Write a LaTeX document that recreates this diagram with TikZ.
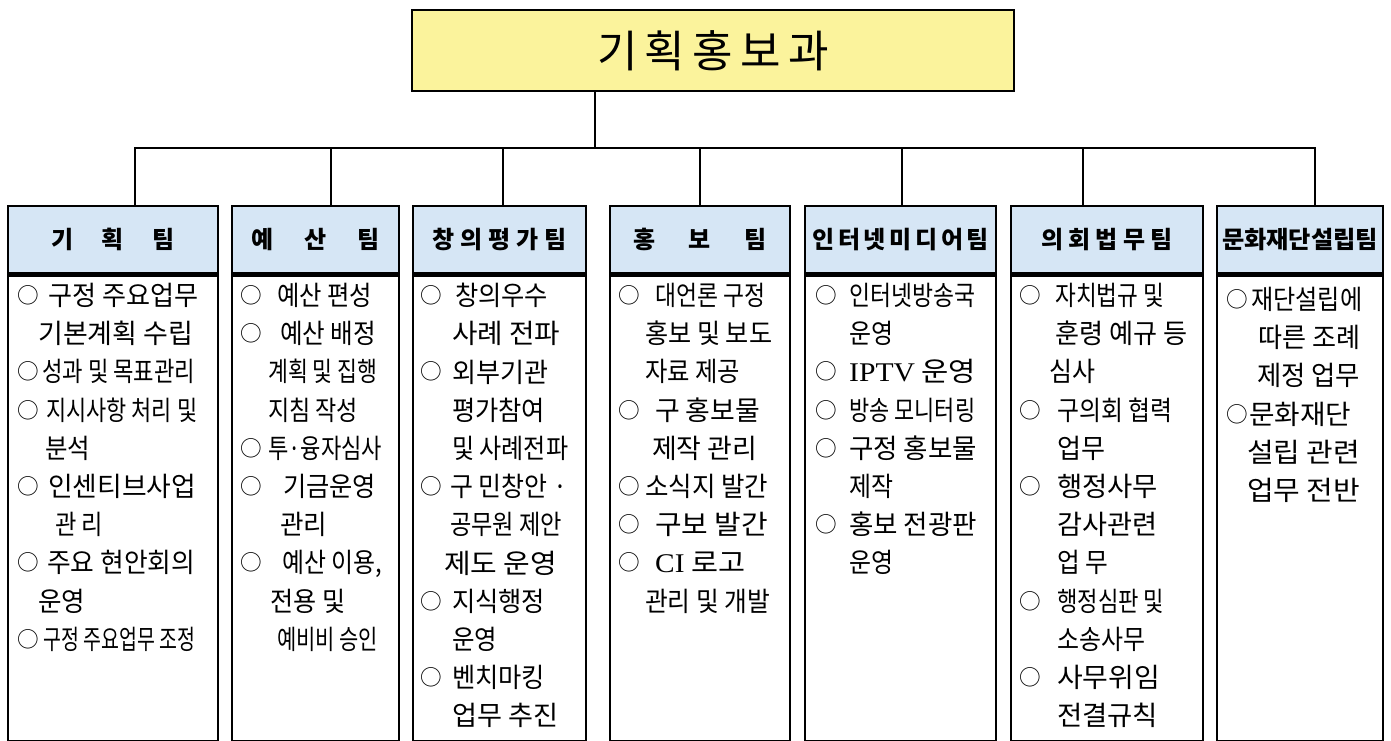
\documentclass[tikz,border=0pt]{standalone}
\usepackage{fontspec}
\usepackage{graphicx}
\newfontfamily\kr{Noto Sans CJK KR}
\newfontfamily\latn{Liberation Serif}
\definecolor{titlefill}{RGB}{251,243,156}
\definecolor{teamfill}{RGB}{214,230,245}
% one duty line: bullet line / continued line (offset, width, text)
\newcommand\bmark{\raisebox{2.1pt}{\scalebox{0.8}{○}}}
\newcommand\bitem[3]{\makebox[0pt][l]{\bmark}\hspace*{#1pt}\resizebox{#2pt}{\height}{#3}}
\newcommand\bcont[3]{\hspace*{#1pt}\resizebox{#2pt}{\height}{#3}}

\begin{document}
\begin{tikzpicture}[x=1pt,y=-1pt,
    title/.style={draw,line width=2.6pt,fill=titlefill,minimum width=602pt,minimum height=81pt,
      font=\kr\fontsize{44}{44}\selectfont},
    team/.style={draw,line width=2.6pt,fill=teamfill,minimum height=67pt,
      font=\kr\bfseries\fontsize{24}{24}\selectfont},
    duty/.style={draw,line width=2.6pt,minimum height=466pt},
    lines/.style={anchor=north west,inner sep=0pt,align=left,
      font=\kr\fontsize{27}{38.2}\selectfont},
    link/.style={line width=2.4pt}]
  \useasboundingbox (0,0) rectangle (1391,740);

  \node[title] (top) at (713,50.5) {\makebox[232pt][s]{기 획 홍 보 과}};

  % team boxes
  \foreach \n/\cx/\w/\txt in {
      1/113/210/{\makebox[124pt][s]{기 획 팀}},
      2/315.5/167/{\makebox[129pt][s]{예 산 팀}},
      3/499.5/173/{\makebox[135pt][s]{창 의 평 가 팀}},
      4/700/180/{\makebox[134pt][s]{홍 보 팀}},
      5/900.5/191/{\makebox[176pt][s]{인 터 넷 미 디 어 팀}},
      6/1107/192/{\makebox[132pt][s]{의 회 법 무 팀}},
      7/1300/166/{\resizebox{156pt}{\height}{문화재단설립팀}}}{
    \node[team,minimum width=\w pt] (h\n) at (\cx,239.5) {\txt};
    \node[duty,minimum width=\w pt,anchor=north] (b\n) at (h\n.south) {};
  }

  % connectors
  \coordinate (bus) at (595,148);
  \foreach \n/\dx in {1/135,2/331,3/503,4/700,5/902,6/1083,7/1315}
    \coordinate (d\n) at (\dx,148);
  \draw[link] (top.south -| bus) -- (bus);
  \draw[link,line join=miter] (d1 |- h1.north) -- (d1) -- (d7) -- (d7 |- h7.north);
  \foreach \n in {2,...,6}
    \draw[link] (d\n) -- (d\n |- h\n.north);

  % duties
  \node[lines] (t1) at (17,283) {%
    \bitem{31}{150}{구정 주요업무}\\
    \bcont{21}{155}{기본계획 수립}\\
    \bitem{25}{153}{성과 및 목표관리}\\
    \bitem{29}{151}{지시사항 처리 및}\\
    \bcont{28}{45}{분석}\\
    \bitem{31}{148}{인센티브사업}\\
    \bcont{38}{48}{관 리}\\
    \bitem{30}{148}{주요 현안회의}\\
    \bcont{21}{47}{운영}\\
    \bitem{26}{152}{구정 주요업무 조정}};
  \node[lines] (t2) at (240,283) {%
    \bitem{37}{95}{예산 편성}\\
    \bitem{40}{96}{예산 배정}\\
    \bcont{28}{109}{계획 및 집행}\\
    \bcont{28}{90}{지침 작성}\\
    \bitem{28}{114}{투·융자심사}\\
    \bitem{43}{93}{기금운영}\\
    \bcont{40}{47}{관리}\\
    \bitem{42}{100}{예산 이용,}\\
    \bcont{30}{75}{전용 및}\\
    \bcont{37}{101}{예비비 승인}};
  \node[lines] (t3) at (420,283) {%
    \bitem{35}{93}{창의우수}\\
    \bcont{32}{108}{사례 전파}\\
    \bitem{32}{96}{외부기관}\\
    \bcont{32}{93}{평가참여}\\
    \bcont{32}{116}{및 사례전파}\\
    \bitem{30}{117}{구 민창안 ·}\\
    \bcont{30}{112}{공무원 제안}\\
    \bcont{24}{113}{제도 운영}\\
    \bitem{32}{93}{지식행정}\\
    \bcont{32}{45}{운영}\\
    \bitem{32}{93}{벤치마킹}\\
    \bcont{32}{106}{업무 추진}};
  \node[lines] (t4) at (618,283) {%
    \bitem{37}{110}{대언론 구정}\\
    \bcont{27}{127}{홍보 및 보도}\\
    \bcont{27}{95}{자료 제공}\\
    \bitem{37}{105}{구 홍보물}\\
    \bcont{34}{105}{제작 관리}\\
    \bitem{27}{123}{소식지 발간}\\
    \bitem{37}{113}{구보 발간}\\
    \bitem{37}{90}{{\latn CI} 로고}\\
    \bcont{27}{125}{관리 및 개발}};
  \node[lines] (t5) at (815,283) {%
    \bitem{34}{126}{인터넷방송국}\\
    \bcont{34}{44}{운영}\\
    \bitem{34}{127}{{\latn IPTV} 운영}\\
    \bitem{34}{126}{방송 모니터링}\\
    \bitem{34}{128}{구정 홍보물}\\
    \bcont{34}{44}{제작}\\
    \bitem{34}{128}{홍보 전광판}\\
    \bcont{34}{44}{운영}};
  \node[lines] (t6) at (1019,283) {%
    \bitem{36}{109}{자치법규 및}\\
    \bcont{36}{132}{훈령 예규 등}\\
    \bcont{30}{46}{심사}\\
    \bitem{38}{115}{구의회 협력}\\
    \bcont{38}{48}{업무}\\
    \bitem{38}{101}{행정사무}\\
    \bcont{38}{100}{감사관련}\\
    \bcont{38}{51}{업 무}\\
    \bitem{38}{107}{행정심판 및}\\
    \bcont{38}{88}{소송사무}\\
    \bitem{38}{103}{사무위임}\\
    \bcont{38}{101}{전결규칙}};
  \node[lines] (t7) at (1226,287) {%
    \bitem{25}{111}{재단설립에}\\
    \bcont{32}{102}{따른 조례}\\
    \bcont{31}{103}{제정 업무}\\
    \bitem{23}{102}{문화재단}\\
    \bcont{21}{113}{설립 관련}\\
    \bcont{21}{113}{업무 전반}};
\end{tikzpicture}
\end{document}
